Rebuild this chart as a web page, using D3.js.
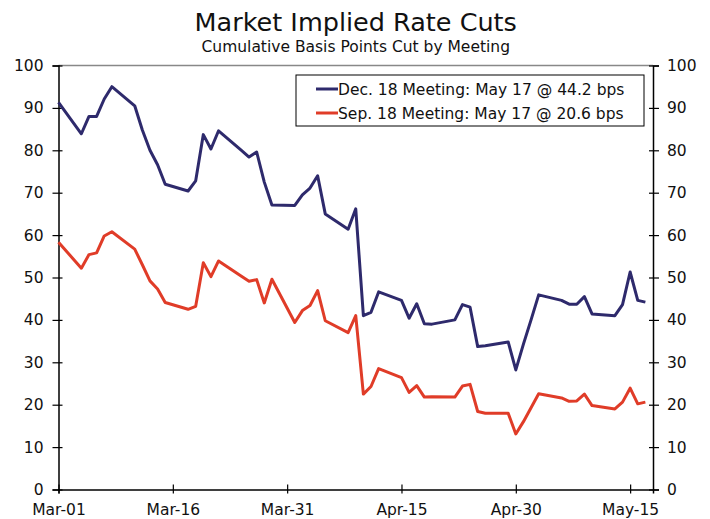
<html>
<head>
<meta charset="utf-8">
<title>Market Implied Rate Cuts</title>
<style>
  body { margin: 0; background: #fff; }
  text { font-family: "DejaVu Sans", Verdana, sans-serif; fill: #111; }
</style>
</head>
<body>
<div id="chart"></div>
<script src="https://cdn.jsdelivr.net/npm/d3@7"></script>
<script>
// trading days, 2024
var dates = [
  "2024-03-01",
  "2024-03-04","2024-03-05","2024-03-06","2024-03-07","2024-03-08",
  "2024-03-11","2024-03-12","2024-03-13","2024-03-14","2024-03-15",
  "2024-03-18","2024-03-19","2024-03-20","2024-03-21","2024-03-22",
  "2024-03-25","2024-03-26","2024-03-27","2024-03-28","2024-03-29",
  "2024-04-01","2024-04-02","2024-04-03","2024-04-04","2024-04-05",
  "2024-04-08","2024-04-09","2024-04-10","2024-04-11","2024-04-12",
  "2024-04-15","2024-04-16","2024-04-17","2024-04-18","2024-04-19",
  "2024-04-22","2024-04-23","2024-04-24","2024-04-25","2024-04-26",
  "2024-04-29","2024-04-30","2024-05-01","2024-05-02","2024-05-03",
  "2024-05-06","2024-05-07","2024-05-08","2024-05-09","2024-05-10",
  "2024-05-13","2024-05-14","2024-05-15","2024-05-16","2024-05-17"
]

var dec18 = [
  91.3,
  83.9, 88.0, 88.0, 92.1, 95.0,
  90.5, 84.8, 80.0, 76.6, 72.0,
  70.4, 72.8, 83.7, 80.3, 84.6,
  80.0, 78.4, 79.6, 72.5, 67.1,
  67.0, 69.5, 71.1, 74.0, 65.0,
  61.4, 66.2, 41.0, 41.8, 46.6,
  44.6, 40.4, 43.8, 39.1, 39.0,
  40.0, 43.6, 43.0, 33.7, 33.9,
  34.8, 28.2, 34.3, 40.0, 45.9,
  44.6, 43.7, 43.7, 45.5, 41.4,
  41.0, 43.6, 51.3, 44.6, 44.2
]

var sep18 = [
  58.3,
  52.2, 55.4, 55.8, 59.8, 60.8,
  56.7, 53.0, 49.2, 47.3, 44.1,
  42.5, 43.2, 53.5, 50.2, 53.9,
  50.3, 49.1, 49.5, 44.0, 49.6,
  39.4, 42.2, 43.4, 46.9, 39.8,
  37.0, 41.0, 22.5, 24.3, 28.5,
  26.4, 22.9, 24.5, 21.8, 21.9,
  21.8, 24.4, 24.8, 18.4, 18.0,
  18.0, 13.1, 16.0, 19.3, 22.6,
  21.6, 20.8, 20.9, 22.5, 19.8,
  19.0, 20.6, 23.9, 20.2, 20.6
]

var seriesNames = ["Dec. 18 Meeting: May 17 @ 44.2 bps", "Sep. 18 Meeting: May 17 @ 20.6 bps"]
var colors = ["#2e2a6c", "#e03c28"]
var xTicks = ["2024-03-01","2024-03-16","2024-03-31","2024-04-15","2024-04-30","2024-05-15"]
var yTicks = [0, 10, 20, 30, 40, 50, 60, 70, 80, 90, 100]

var width = 710, height = 519
var margin = { left: 58.5, right: 57, top: 65.5, bottom: 29.5 }

var parse = d3.timeParse("%Y-%m-%d")

var svg = d3.select("#chart").append("svg")
  .attr("width", width)
  .attr("height", height)

var x = d3.scaleTime()
  .domain([parse("2024-03-01"), parse("2024-05-18")])
  .range([margin.left, width - margin.right])

var y = d3.scaleLinear()
  .domain([0, 100])
  .range([height - margin.bottom, margin.top])

// titles
svg.append("text")
  .attr("x", (x.range()[0] + x.range()[1]) / 2).attr("y", 31)
  .attr("text-anchor", "middle").style("font-size", "25.5px")
  .text("Market Implied Rate Cuts")

svg.append("text")
  .attr("x", (x.range()[0] + x.range()[1]) / 2).attr("y", 52)
  .attr("text-anchor", "middle").style("font-size", "15.5px")
  .text("Cumulative Basis Points Cut by Meeting")

// top border
svg.append("line")
  .attr("x1", x.range()[0]).attr("x2", x.range()[1])
  .attr("y1", y(100)).attr("y2", y(100))
  .attr("stroke", "#888").attr("stroke-width", 1.5)

// axes
var yLeft = svg.append("g")
  .attr("transform", "translate(" + x.range()[0] + ",0)")
  .call(d3.axisLeft(y).tickValues(yTicks).tickSize(6).tickPadding(9))

var yRight = svg.append("g")
  .attr("transform", "translate(" + x.range()[1] + ",0)")
  .call(d3.axisRight(y).tickValues(yTicks).tickSize(6).tickPadding(8))

var xAxis = svg.append("g")
  .attr("transform", "translate(0," + y(0) + ")")
  .call(d3.axisBottom(x).tickValues(xTicks.map(parse)).tickSize(4).tickPadding(10)
    .tickFormat(d3.timeFormat("%b-%d")))

;[yLeft, yRight, xAxis].forEach(function(g) {
  g.select(".domain").attr("stroke", "#000").attr("stroke-width", 1.5)
  g.selectAll(".tick line").attr("stroke", "#000").attr("stroke-width", 1.2)
  g.selectAll("text").style("font-size", "15.5px").attr("fill", "#111")
})

// ticks cross the axes a little
yLeft.selectAll(".tick line").attr("x1", 4)
yRight.selectAll(".tick line").attr("x1", -4)
xAxis.selectAll(".tick line").attr("y1", -5)

// lines
var line = d3.line()
  .x(function(d) { return x(d.date) })
  .y(function(d) { return y(d.value) })

;[dec18, sep18].forEach(function(vals, k) {
  var data = dates.map(function(d, i) { return { date: parse(d), value: vals[i] } })
  svg.append("path")
    .datum(data)
    .attr("fill", "none")
    .attr("stroke", colors[k])
    .attr("stroke-width", 3)
    .attr("stroke-linejoin", "round")
    .attr("d", line)
})

// legend
var legend = svg.append("g").attr("transform", "translate(296,75)")
legend.append("rect")
  .attr("width", 348).attr("height", 51)
  .attr("fill", "#fff").attr("stroke", "#000").attr("stroke-width", 1)

seriesNames.forEach(function(name, k) {
  var ly = 14 + k * 24
  legend.append("line")
    .attr("x1", 20).attr("x2", 42).attr("y1", ly).attr("y2", ly)
    .attr("stroke", colors[k]).attr("stroke-width", 3)
  legend.append("text")
    .attr("x", 42).attr("y", ly + 5.5)
    .style("font-size", "15.5px")
    .text(name)
})
</script>
</body>
</html>
